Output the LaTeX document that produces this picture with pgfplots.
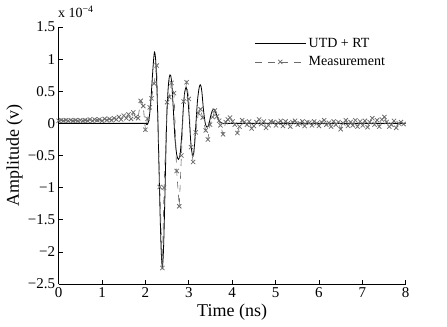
\documentclass[border=0pt]{standalone}
\usepackage{fontspec}
\setmainfont{Liberation Serif}
\usepackage{pgfplots}
\pgfplotsset{compat=1.18}
\definecolor{meas}{gray}{0.42}

\begin{document}
\begin{tikzpicture}
\begin{axis}[
    scale only axis, width=347pt, height=257pt,
    xmin=0, xmax=8, ymin=-2.5, ymax=1.5,
    axis x line*=bottom, axis y line*=left,
    axis line style={line width=0.6pt},
    xtick={0,1,2,3,4,5,6,7,8},
    ytick={-2.5,-2,-1.5,-1,-0.5,0,0.5,1,1.5},
    yticklabels={−2.5,−2,−1.5,−1,−0.5,0,0.5,1,1.5},
    tick align=inside, major tick length=4pt,
    tick style={line width=0.6pt, black},
    /pgf/number format/assume math mode=true,
    tick label style={font=\fontsize{15}{17}\selectfont},
    xlabel={Time (ns)}, ylabel={Amplitude (v)},
    label style={font=\fontsize{18}{20}\selectfont},
    xlabel style={at={(rel axis cs:0.5,-0.109)}, anchor=center},
    ylabel style={at={(rel axis cs:-0.127,0.5)}, anchor=center},
    legend cell align=left,
    legend style={draw=none, fill=none, at={(0.958,0.97)}, anchor=north east,
        font=\fontsize{14}{16}\selectfont, row sep=6pt,
        nodes={inner xsep=3pt, inner ysep=1pt}},
    legend image code/.code={\draw[mark repeat=2,mark phase=2,#1] plot coordinates {(0pt,0pt)(25pt,0pt)(50pt,0pt)};},
    clip=false,
]
% UTD + RT
\addplot[black, line width=0.8pt, smooth, tension=0.5] coordinates {
    (0,0) (1.9,0) (2.0,0) (2.04,-0.02) (2.08,0.05) (2.12,0.3) (2.16,0.72) (2.19,1.0)
    (2.21,1.11) (2.235,1.0) (2.26,0.65) (2.285,0.1) (2.31,-0.6) (2.34,-1.45)
    (2.365,-2.0) (2.39,-2.24) (2.415,-2.0) (2.44,-1.4) (2.465,-0.65) (2.49,0.05)
    (2.52,0.5) (2.55,0.72) (2.58,0.75) (2.61,0.6) (2.645,0.2) (2.68,-0.22)
    (2.72,-0.48) (2.76,-0.56) (2.80,-0.48) (2.84,-0.15) (2.88,0.3) (2.91,0.5)
    (2.94,0.56) (2.97,0.45) (3.01,0.1) (3.05,-0.33) (3.09,-0.5) (3.12,-0.42)
    (3.16,-0.05) (3.2,0.35) (3.24,0.56) (3.27,0.6) (3.30,0.5) (3.34,0.2)
    (3.38,0.0) (3.42,-0.06) (3.46,-0.02) (3.51,0.13) (3.55,0.21) (3.58,0.22)
    (3.62,0.17) (3.67,0.08) (3.72,0.02) (3.78,0.0) (3.9,0) (4.2,0) (8,0)
};
\addlegendentry{UTD + RT}

% Measurement
\addplot[meas, line width=0.6pt, dash pattern=on 7pt off 6pt, mark=x, mark size=3pt,
    mark options={solid, line width=0.75pt}] coordinates {
    (0.00,0.04) (0.06,0.05) (0.11,0.04) (0.17,0.05) (0.22,0.04) (0.28,0.05)
    (0.33,0.04) (0.39,0.05) (0.44,0.04) (0.50,0.05) (0.56,0.04) (0.61,0.05)
    (0.67,0.04) (0.72,0.06) (0.78,0.04) (0.83,0.06) (0.89,0.05) (0.94,0.06)
    (1.00,0.04) (1.06,0.07) (1.11,0.05) (1.17,0.07) (1.22,0.05) (1.28,0.08)
    (1.33,0.06) (1.39,0.10) (1.44,0.06) (1.50,0.12) (1.56,0.08) (1.61,0.14)
    (1.67,0.07) (1.72,0.17) (1.78,0.10) (1.83,0.08) (1.89,0.35) (1.95,0.27)
    (2.00,-0.10) (2.05,0.07) (2.10,0.25) (2.14,0.39) (2.20,0.62) (2.26,0.90)
    (2.33,-0.99) (2.39,-2.25) (2.43,-1.00) (2.50,0.33) (2.55,0.41) (2.60,0.63)
    (2.66,0.47) (2.72,-0.74) (2.78,-1.29) (2.83,-0.50) (2.88,0.34) (2.95,0.64)
    (3.00,0.38) (3.05,-0.37) (3.10,-0.60) (3.16,-0.14) (3.22,0.16) (3.27,0.22)
    (3.32,0.09) (3.39,-0.11) (3.44,-0.25) (3.49,-0.02) (3.55,0.10) (3.60,0.20)
    (3.65,0.11) (3.70,0.04) (3.73,-0.03) (3.79,-0.17) (3.85,0.02) (3.90,0.06)
    (3.95,0.09) (4.01,0.03) (4.06,-0.02) (4.12,-0.15) (4.17,-0.05) (4.23,0.05)
    (4.28,0.02) (4.34,-0.02) (4.39,0.03) (4.45,-0.08) (4.50,-0.04) (4.56,0.02)
    (4.62,0.06) (4.67,-0.01) (4.73,0.03) (4.78,-0.07) (4.84,-0.03) (4.89,0.03)
    (4.95,0.02) (5.01,-0.03) (5.06,0.01) (5.12,0.04) (5.17,-0.04) (5.23,0.03)
    (5.28,0.00) (5.34,-0.05) (5.39,0.02) (5.45,0.04) (5.51,-0.02) (5.56,0.00)
    (5.62,0.03) (5.67,-0.04) (5.73,0.02) (5.78,0.01) (5.84,-0.03) (5.89,0.03)
    (5.95,0.00) (6.00,-0.04) (6.06,0.02) (6.12,0.05) (6.17,-0.02) (6.23,0.01)
    (6.28,-0.05) (6.34,0.03) (6.39,-0.02) (6.45,0.02) (6.50,-0.09) (6.56,0.00)
    (6.62,0.05) (6.67,-0.04) (6.73,0.02) (6.78,-0.03) (6.84,0.05) (6.89,-0.05)
    (6.95,0.03) (7.01,-0.03) (7.06,0.04) (7.12,-0.06) (7.17,0.02) (7.23,0.08)
    (7.28,-0.02) (7.34,0.05) (7.39,-0.05) (7.45,0.06) (7.51,0.10) (7.56,0.02)
    (7.62,-0.05) (7.67,-0.02) (7.73,0.04) (7.78,-0.07) (7.84,0.00) (7.89,0.02)
    (7.95,-0.01)
};
\addlegendentry{Measurement}

\node[anchor=base west, font=\fontsize{14}{16}\selectfont, inner sep=0pt]
    at (rel axis cs:-0.002,1.035) {x 10\textsuperscript{−4}};
\path (rel axis cs:-0.169,-0.167) rectangle (rel axis cs:1.119,1.105);
\end{axis}
\end{tikzpicture}
\end{document}
